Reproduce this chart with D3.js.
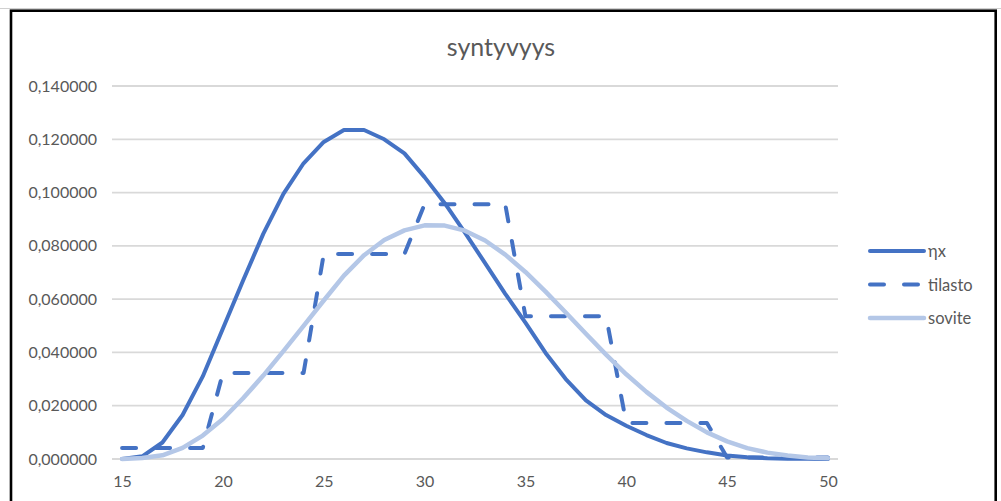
<!DOCTYPE html>
<html>
<head>
<meta charset="utf-8">
<script src="https://cdn.jsdelivr.net/npm/d3@7"></script>
<style>
  html, body { margin: 0; padding: 0; background: #fff; }
  svg { display: block; }
  text { font-family: Lato, "Open Sans", sans-serif; fill: #595959; }
</style>
</head>
<body>
<svg id="chart" width="1001" height="501"></svg>
<script>
// Age categories 15..50
const ages = d3.range(15, 51);

// Age-specific fertility (ηx)
const etaX = [
  0.0000, 0.0010, 0.0062, 0.0165, 0.0310, 0.0490, 0.0670, 0.0845, 0.0995, 0.1110,
  0.1190, 0.1235, 0.1235, 0.1200, 0.1147, 0.1058, 0.0960, 0.0850, 0.0735, 0.0620,
  0.0512, 0.0398, 0.0300, 0.0220, 0.0165, 0.0125, 0.0090, 0.0060, 0.0040, 0.0025,
  0.0013, 0.0007, 0.0003, 0.0001, 0.0001, 0.0000
];

// Statistics by five-year age group (tilasto)
const tilasto = [
  0.0041, 0.0041, 0.0041, 0.0041, 0.0041,
  0.0323, 0.0323, 0.0323, 0.0323, 0.0323,
  0.0769, 0.0769, 0.0769, 0.0769, 0.0769,
  0.0956, 0.0956, 0.0956, 0.0956, 0.0956,
  0.0536, 0.0536, 0.0536, 0.0536, 0.0536,
  0.0135, 0.0135, 0.0135, 0.0135, 0.0135,
  0.0006, 0.0006, 0.0006, 0.0006, 0.0006, 0.0006
];

// Fitted curve (sovite)
const sovite = [
  0.0000, 0.0004, 0.0014, 0.0042, 0.0088, 0.0150, 0.0228, 0.0313, 0.0405, 0.0500,
  0.0595, 0.0688, 0.0765, 0.0822, 0.0858, 0.0877, 0.0876, 0.0857, 0.0820, 0.0767,
  0.0702, 0.0628, 0.0550, 0.0470, 0.0392, 0.0318, 0.0252, 0.0193, 0.0143, 0.0100,
  0.0066, 0.0041, 0.0024, 0.0013, 0.0006, 0.0003
];

const yTicks = [0, 0.02, 0.04, 0.06, 0.08, 0.10, 0.12, 0.14];
const xTickLabels = [15, 20, 25, 30, 35, 40, 45, 50];

const seriesList = [
  { name: "ηx", values: etaX, color: "#4472C4", width: 4, dash: null },
  { name: "tilasto", values: tilasto, color: "#4472C4", width: 4, dash: "14,20" },
  { name: "sovite", values: sovite, color: "#B4C7E7", width: 4.5, dash: null }
];

const svg = d3.select("#chart");

// Outer frame
svg.append("line")
  .attr("x1", 0).attr("x2", 1001).attr("y1", 8.5).attr("y2", 8.5)
  .attr("stroke", "#d0d0d0").attr("stroke-width", 1);
svg.append("rect")
  .attr("x", 11).attr("y", 10.7).attr("width", 984.7).attr("height", 520)
  .attr("fill", "#fff").attr("stroke", "#000").attr("stroke-width", 2.6);

const plot = { left: 112, right: 838, top: 86, bottom: 459 };

const x = d3.scalePoint()
  .domain(ages)
  .range([plot.left, plot.right])
  .padding(0.5);

const y = d3.scaleLinear()
  .domain([0, 0.14])
  .range([plot.bottom, plot.top]);

const fmt = v => d3.format(".6f")(v).replace(".", ",");

// Horizontal gridlines
svg.append("g")
  .selectAll("line")
  .data(yTicks)
  .join("line")
  .attr("x1", plot.left).attr("x2", plot.right)
  .attr("y1", d => y(d)).attr("y2", d => y(d))
  .attr("stroke", "#d9d9d9").attr("stroke-width", 1.8);

// Y axis labels
const yAxis = d3.axisLeft(y).tickValues(yTicks).tickFormat(fmt).tickSize(0).tickPadding(0);
svg.append("g")
  .attr("transform", `translate(97,0)`)
  .call(yAxis)
  .call(g => g.select(".domain").remove())
  .call(g => g.selectAll("text")
    .attr("font-family", "Lato, 'Open Sans', sans-serif")
    .attr("font-size", 16)
    .attr("fill", "#595959"));

// X axis labels (every fifth category)
const xAxis = d3.axisBottom(x).tickValues(xTickLabels).tickSize(0).tickPadding(0);
svg.append("g")
  .attr("transform", `translate(0,${plot.bottom + 17})`)
  .call(xAxis)
  .call(g => g.select(".domain").remove())
  .call(g => g.selectAll("text")
    .attr("font-family", "Lato, 'Open Sans', sans-serif")
    .attr("font-size", 16)
    .attr("fill", "#595959"));

// Series lines
const lineGen = d3.line()
  .x((d, i) => x(ages[i]))
  .y(d => y(d));

const drawOrder = [seriesList[1], seriesList[0], seriesList[2]];
svg.append("g")
  .selectAll("path")
  .data(drawOrder)
  .join("path")
  .attr("d", s => lineGen(s.values))
  .attr("fill", "none")
  .attr("stroke", s => s.color)
  .attr("stroke-width", s => s.width)
  .attr("stroke-dasharray", s => s.dash)
  .attr("stroke-linecap", "round")
  .attr("stroke-linejoin", "round");

// Title
svg.append("text")
  .attr("x", 501).attr("y", 46)
  .attr("text-anchor", "middle")
  .attr("dominant-baseline", "central")
  .attr("font-size", 25)
  .text("syntyvyys");

// Legend
const legend = svg.append("g");
const legendY = d3.scalePoint().domain(seriesList.map(s => s.name)).range([251, 318]);
const items = legend.selectAll("g")
  .data(seriesList)
  .join("g")
  .attr("transform", s => `translate(870,${legendY(s.name)})`);
items.append("line")
  .attr("x1", 0).attr("x2", 54)
  .attr("stroke", s => s.color)
  .attr("stroke-width", s => s.width)
  .attr("stroke-dasharray", s => s.dash ? "14,20" : null)
  .attr("stroke-linecap", "round");
items.append("text")
  .attr("x", 58)
  .attr("dominant-baseline", "central")
  .attr("font-size", 16.5)
  .text(s => s.name);
</script>
</body>
</html>
